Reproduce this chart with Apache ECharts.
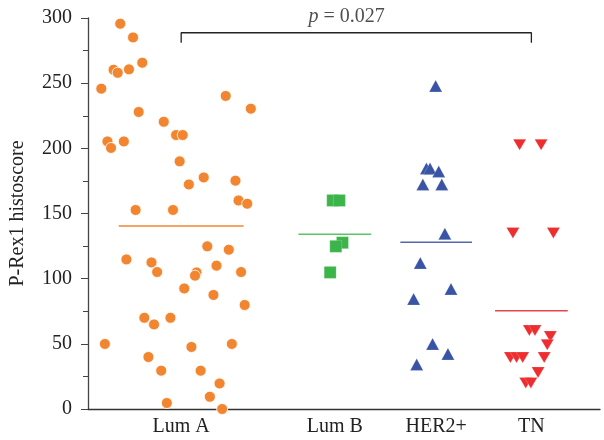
<!DOCTYPE html>
<html><head><meta charset="utf-8">
<script src="https://cdn.jsdelivr.net/npm/echarts@6/dist/echarts.min.js"></script>
<style>html,body{margin:0;padding:0;background:#fff}#c{width:604px;height:440px}</style>
</head><body><div id="c"></div>
<script>
// category names and their positions on the x scale (0-100)
const categories = ['Lum A', 'Lum B', 'HER2+', 'TN'];
const catPos = [18.2, 48.2, 68.0, 86.6];
const yTicks = [0, 50, 100, 150, 200, 250, 300];

// [jitter, value] per group
const lumA = [[-11.9,295.6],[-9.4,285.1],[-13.2,260.3],[-12.4,258],[-10.2,260.6],[-7.6,265.7],[-15.6,245.8],
  [8.7,240.2],[13.6,230.4],[-8.3,227.9],[-3.4,220.4],[-1.0,210.2],[0.3,210.2],[-14.4,205.3],[-13.7,200.3],
  [-11.2,205.3],[-0.3,190],[1.5,172.3],[4.4,177.7],[10.6,175.2],[11.2,160],[12.9,157.5],[-8.9,152.7],[-1.6,152.7],
  [5.1,124.8],[9.3,122.2],[-10.7,114.8],[-5.8,112.5],[-4.7,105.1],[6.9,110],[3.0,104.8],[2.7,102.3],[11.7,105.1],
  [0.6,92.5],[6.3,87.5],[12.4,79.8],[-7.2,70],[-5.3,64.9],[-2.1,70],[-14.9,49.9],[2.0,47.6],[9.9,49.9],
  [-6.4,39.9],[-3.9,29.4],[3.8,29.4],[7.5,19.6],[5.6,9.4],[-2.8,4.6],[8.0,0]];
const lumB = [[-0.4,160],[0.9,160],[1.5,127.6],[0.2,124.8],[-0.9,104.8]];
const her2 = [[-0.1,247.9],[-1.9,184.6],[-1.2,184.6],[0.5,182.3],[-2.6,172.3],[1.1,172.3],[1.7,134.5],
  [-3.1,112],[2.9,92.1],[-4.4,84.4],[-0.7,49.9],[2.3,42.2],[-3.8,34.2]];
const tn = [[-2.3,202.8],[1.9,202.8],[-3.6,135],[4.3,135],[-0.4,60.3],[0.7,60.3],[3.7,55.7],[3.1,49.3],
  [-4.1,39.6],[-2.9,39.6],[-1.7,39.6],[2.5,39.6],[1.3,28.1],[-1.1,20],[-0.1,20]];
const means = [140.4, 134.0, 127.9, 75.4];
const meanHalfWidth = [12.2, 7.1, 7.0, 7.1];
const bracket = { from: 0, to: 3, low: 281, high: 288.7, labelX: 50.5, labelY: 300 };

const colors = ['#F28630', '#3BB54A', '#3A54A5', '#EE2D2F'];
const lineColors = ['#F28630', '#5CC464', '#5468AE', '#E2474A'];
const symbols = ['circle', 'rect', 'triangle', 'triangle'];
const sizes = [11, 12, [13, 12], [13, 11]];
const groups = [lumA, lumB, her2, tn];
const serif = '"Liberation Serif", "DejaVu Serif", serif';
const FS = 20;

const series = [];
groups.forEach((g, i) => {
  series.push({
    type: 'scatter', clip: false, z: 3,
    symbol: symbols[i], symbolSize: sizes[i], symbolRotate: i === 3 ? 180 : 0,
    itemStyle: { color: colors[i], borderColor: i === 0 ? '#fff' : 'rgba(255,255,255,0.4)', borderWidth: i === 0 ? 0.8 : 0.5, opacity: 1 },
    data: g.map(p => [catPos[i] + p[0], p[1]])
  });
  series.push({
    type: 'line', z: 2, symbol: 'none', silent: true,
    lineStyle: { color: lineColors[i], width: 1.5 },
    data: [[catPos[i] - meanHalfWidth[i], means[i]], [catPos[i] + meanHalfWidth[i], means[i]]]
  });
});
series.push({
  type: 'line', symbol: 'none', silent: true, clip: false,
  lineStyle: { color: '#222', width: 1.3 },
  data: [[catPos[bracket.from], bracket.low], [catPos[bracket.from], bracket.high],
         [catPos[bracket.to], bracket.high], [catPos[bracket.to], bracket.low]]
});
series.push({
  type: 'scatter', symbolSize: 0, clip: false, silent: true,
  data: [[bracket.labelX, bracket.labelY]],
  label: {
    show: true, position: 'inside', offset: [0, -1],
    formatter: '{it|p} = 0.027',
    fontFamily: serif, fontSize: FS, color: '#222',
    rich: { it: { fontStyle: 'italic', fontFamily: serif, fontSize: FS, color: '#222' } }
  }
});

const chart = echarts.init(document.getElementById('c'), null, { renderer: 'canvas' });
chart.setOption({
  animation: false,
  backgroundColor: '#fff',
  grid: { left: 87, right: 4, top: 18, bottom: 31 },
  xAxis: {
    type: 'value', min: 0, max: 100,
    splitLine: { show: false },
    axisLine: { lineStyle: { color: '#333', width: 1.3 } },
    axisTick: { show: false },
    axisLabel: {
      customValues: catPos, margin: 8,
      formatter: v => { const k = catPos.indexOf(v); return k >= 0 ? categories[k] : ''; },
      fontFamily: serif, fontSize: FS, color: '#222'
    }
  },
  yAxis: {
    type: 'value', min: 0, max: 300, interval: 50,
    name: 'P-Rex1 histoscore', nameLocation: 'middle', nameGap: 60,
    nameTextStyle: { fontFamily: serif, fontSize: FS, color: '#222' },
    splitLine: { show: false },
    axisLine: { show: true, lineStyle: { color: '#444', width: 1.3 } },
    axisTick: { show: true, length: 7, lineStyle: { color: '#444' } },
    minorTick: { show: true, splitNumber: 2, length: 5, lineStyle: { color: '#444' } },
    minorSplitLine: { show: false },
    axisLabel: { fontFamily: serif, fontSize: FS, color: '#222', margin: 16,
      formatter: v => yTicks.includes(v) ? String(v) : '' }
  },
  series
});
</script></body></html>
